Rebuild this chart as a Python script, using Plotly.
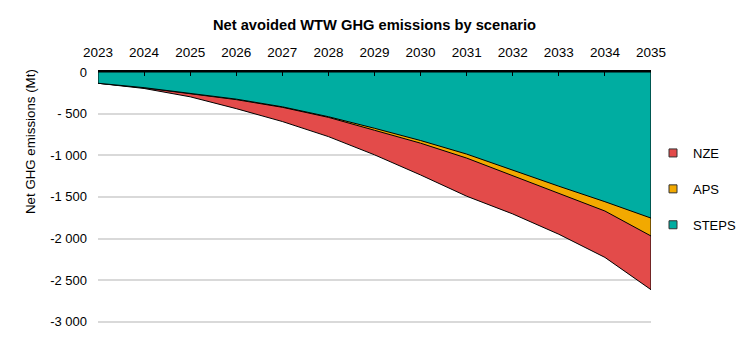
import plotly.graph_objects as go

years = list(range(2023, 2036))
steps = [-135, -188, -254, -326, -418, -537, -676, -823, -986, -1180, -1372, -1558, -1755]
aps = [-135, -190, -258, -332, -424, -545, -700, -855, -1034, -1245, -1463, -1670, -1970]
nze = [-135, -198, -298, -440, -595, -776, -995, -1237, -1492, -1705, -1949, -2227, -2615]

series = [
    ("NZE", nze, "#E34B4A"),
    ("APS", aps, "#F2A900"),
    ("STEPS", steps, "#00ADA1"),
]

y_ticks = [0, -500, -1000, -1500, -2000, -2500, -3000]
y_ticktext = ["0", "- 500", "-1 000", "-1 500", "-2 000", "-2 500", "-3 000"]

font = "Liberation Sans, Arial, sans-serif"
fig = go.Figure()

for name, vals, col in series:
    xs = [years[0]] + years + [years[-1], years[0]]
    ys = [0] + vals + [0, 0]
    fig.add_trace(go.Scatter(
        x=xs, y=ys, mode="lines", fill="toself", fillcolor=col,
        line=dict(color="black", width=1), showlegend=False, hoverinfo="skip",
    ))

for i, (name, vals, col) in enumerate(series):
    fig.add_trace(go.Scatter(
        x=[None], y=[None], mode="markers", name=name,
        marker=dict(symbol="square", size=8, color=col, line=dict(color="#333", width=1)),
        legendgroup=name, legendrank=i,
    ))

# page body has an 8px margin: figure coordinates = window coordinates - 8
OFF = 8
W, H = 755 - 2 * OFF, 359 - 2 * OFF
L, T = 98 - OFF, 72 - OFF
R = W - (651 - OFF)
B = H - (323 - OFF)
pw, ph = W - L - R, H - T - B

fig.update_layout(
    width=W, height=H,
    margin=dict(l=L, r=R, t=T, b=B, autoexpand=False),
    paper_bgcolor="white", plot_bgcolor="white",
    font=dict(family=font, size=13, color="black"),
    title=dict(text="<b>Net avoided WTW GHG emissions by scenario</b>", x=0.5, xanchor="center",
               xref="paper", y=1 - (25 - OFF) / H, yref="container", yanchor="middle",
               font=dict(size=14.7)),
    xaxis=dict(side="top", range=[2023, 2035], tickvals=years, ticks="inside", ticklen=4,
               tickcolor="black", showline=True, linecolor="black", linewidth=2,
               showgrid=False, zeroline=False, automargin=False, ticklabelstandoff=8,
               tickfont=dict(size=13.5)),
    yaxis=dict(range=[-3015, 0], tickvals=y_ticks, ticktext=y_ticktext, showgrid=True,
               gridcolor="#D9D9D9", gridwidth=1.5, zeroline=False, showline=False, ticks="",
               ticklabelstandoff=10, automargin=False),
    legend=dict(x=(673 - OFF - 20 - L) / pw, xanchor="left", y=(H - B - (189 - OFF)) / ph,
                yanchor="middle", tracegroupgap=16, itemwidth=30, font=dict(size=13),
                bgcolor="rgba(0,0,0,0)"),
    annotations=[dict(text="Net GHG emissions (Mt)", xref="paper", yref="paper",
                      x=(30 - OFF - L) / pw, xanchor="center", y=(H - B - (142 - OFF)) / ph,
                      yanchor="middle", textangle=-90, showarrow=False, font=dict(size=13.3))],
)

fig.write_html("out.html")
